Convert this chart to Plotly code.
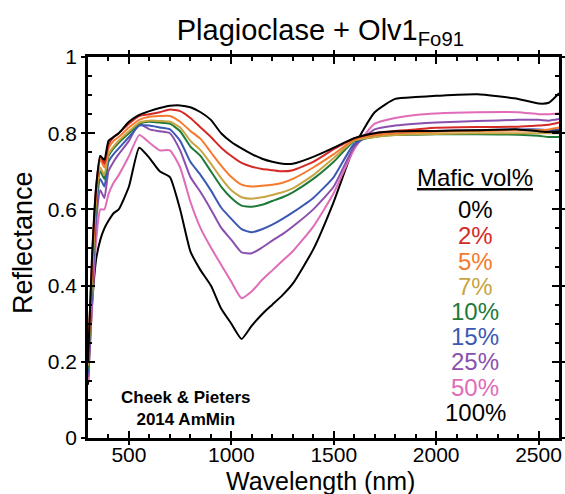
import plotly.graph_objects as go

wavelength = [300, 320, 340, 360, 380, 400, 425, 450, 500, 550, 600, 650, 700, 750, 800,
              850, 900, 950, 1000, 1050, 1100, 1150, 1200, 1250, 1300, 1400, 1500, 1600,
              1700, 1800, 1900, 2000, 2200, 2400, 2500, 2550, 2600]

mafic_0 = [0.20, 0.48, 0.66, 0.74, 0.73, 0.78, 0.79, 0.80, 0.83, 0.848, 0.858, 0.866, 0.872, 0.873, 0.868,
           0.855, 0.835, 0.80, 0.777, 0.76, 0.745, 0.733, 0.725, 0.72, 0.72, 0.738, 0.762, 0.787,
           0.80, 0.805, 0.806, 0.806, 0.808, 0.81, 0.805, 0.803, 0.805]
mafic_2 = [0.21, 0.47, 0.66, 0.74, 0.72, 0.77, 0.79, 0.80, 0.825, 0.845, 0.85, 0.855, 0.862, 0.858, 0.84,
           0.815, 0.79, 0.762, 0.74, 0.722, 0.712, 0.706, 0.703, 0.70, 0.703, 0.725, 0.758, 0.786,
           0.80, 0.806, 0.81, 0.814, 0.816, 0.817, 0.82, 0.822, 0.828]
mafic_5 = [0.20, 0.45, 0.65, 0.73, 0.71, 0.76, 0.78, 0.79, 0.815, 0.835, 0.843, 0.845, 0.845, 0.83, 0.806,
           0.785, 0.75, 0.715, 0.685, 0.665, 0.66, 0.662, 0.665, 0.67, 0.68, 0.71, 0.745, 0.783,
           0.795, 0.80, 0.802, 0.804, 0.806, 0.807, 0.808, 0.81, 0.815]
mafic_7 = [0.19, 0.43, 0.63, 0.71, 0.69, 0.745, 0.765, 0.78, 0.805, 0.828, 0.833, 0.832, 0.83, 0.815, 0.78,
           0.755, 0.72, 0.682, 0.65, 0.632, 0.628, 0.632, 0.638, 0.645, 0.655, 0.69, 0.735, 0.781,
           0.79, 0.795, 0.797, 0.798, 0.80, 0.80, 0.80, 0.80, 0.80]
mafic_10 = [0.18, 0.42, 0.62, 0.70, 0.68, 0.74, 0.76, 0.775, 0.80, 0.825, 0.83, 0.828, 0.825, 0.805, 0.765,
            0.74, 0.70, 0.66, 0.63, 0.61, 0.607, 0.612, 0.622, 0.632, 0.645, 0.68, 0.725, 0.779,
            0.79, 0.795, 0.796, 0.797, 0.797, 0.796, 0.793, 0.79, 0.79]
mafic_15 = [0.17, 0.40, 0.60, 0.68, 0.66, 0.725, 0.745, 0.76, 0.79, 0.82, 0.82, 0.815, 0.81, 0.78, 0.725,
            0.69, 0.65, 0.605, 0.575, 0.548, 0.54, 0.548, 0.56, 0.575, 0.592, 0.63, 0.685, 0.772,
            0.795, 0.80, 0.803, 0.806, 0.808, 0.81, 0.81, 0.808, 0.81]
mafic_25 = [0.16, 0.38, 0.57, 0.65, 0.63, 0.70, 0.725, 0.745, 0.78, 0.825, 0.81, 0.805, 0.80, 0.755, 0.685,
            0.645, 0.60, 0.552, 0.52, 0.487, 0.485, 0.50, 0.518, 0.535, 0.555, 0.60, 0.66, 0.765,
            0.81, 0.82, 0.825, 0.828, 0.832, 0.835, 0.835, 0.833, 0.837]
mafic_50 = [0.15, 0.35, 0.52, 0.60, 0.60, 0.64, 0.67, 0.69, 0.74, 0.795, 0.775, 0.755, 0.755, 0.71, 0.62,
            0.55, 0.50, 0.455, 0.41, 0.367, 0.385, 0.415, 0.44, 0.465, 0.49, 0.555, 0.643, 0.758,
            0.825, 0.84, 0.848, 0.852, 0.855, 0.855, 0.85, 0.85, 0.852]
mafic_100 = [0.14, 0.35, 0.47, 0.52, 0.55, 0.57, 0.59, 0.60, 0.66, 0.762, 0.735, 0.70, 0.685, 0.60, 0.49,
             0.44, 0.40, 0.34, 0.30, 0.26, 0.295, 0.325, 0.35, 0.375, 0.405, 0.495, 0.62, 0.765,
             0.855, 0.89, 0.895, 0.898, 0.902, 0.89, 0.878, 0.88, 0.905]

labels = ["0%", "2%", "5%", "7%", "10%", "15%", "25%", "50%", "100%"]
series = [mafic_0, mafic_2, mafic_5, mafic_7, mafic_10, mafic_15, mafic_25, mafic_50, mafic_100]
colors = ["#000000", "#d42a26", "#f57a2c", "#c9a443", "#1d7a38", "#3b58b4", "#8b4fae", "#e06cb8", "#000000"]

major_x = [500, 1000, 1500, 2000, 2500]
major_y = [0, 0.2, 0.4, 0.6, 0.8, 1]

FONT = "Liberation Sans, Arial, sans-serif"
W, H = 565, 494
L, R, T, B = 88, 6, 57, 56
pw, ph = W - L - R, H - T - B

fig = go.Figure()
for lab, ys, col in reversed(list(zip(labels, series, colors))):
    fig.add_trace(go.Scatter(x=wavelength, y=ys, mode="lines", name=lab,
                             line=dict(color=col, width=2, shape="spline", smoothing=0.5),
                             showlegend=False))

fig.add_trace(go.Scatter(x=[], y=[], xaxis="x2", yaxis="y2", showlegend=False))

fig.update_layout(
    width=W, height=H,
    margin=dict(l=L, r=R, t=T, b=B, autoexpand=False),
    paper_bgcolor="white", plot_bgcolor="white",
    font=dict(family=FONT, color="black"),
    title=dict(text="Plagioclase + Olv1<sub>Fo91</sub>", x=0.567, xanchor="center",
               y=0.94, yanchor="middle", font=dict(size=29, family=FONT)),
    xaxis=dict(range=[300, 2600], showgrid=False, zeroline=False, automargin=False,
               showline=True, linewidth=2.5, linecolor="black", mirror="ticks",
               tickmode="array", tickvals=major_x, ticks="inside", ticklen=7, tickwidth=2,
               tickcolor="black", tickfont=dict(size=21, family=FONT), ticklabelstandoff=-4,
               minor=dict(tickmode="linear", tick0=0, dtick=100, ticks="inside", ticklen=4,
                          tickwidth=1.8, tickcolor="black")),
    yaxis=dict(range=[0, 1], showgrid=False, zeroline=False, automargin=False,
               showline=True, linewidth=2.5, linecolor="black", mirror="ticks",
               tickmode="array", tickvals=major_y, ticks="inside", ticklen=7, tickwidth=2,
               tickcolor="black", tickfont=dict(size=21, family=FONT), ticklabelstandoff=4,
               minor=dict(tickmode="linear", tick0=0, dtick=0.05, ticks="inside", ticklen=4,
                          tickwidth=1.8, tickcolor="black")),
    xaxis2=dict(range=[300, 2600], overlaying="x", anchor="y", side="bottom", automargin=False,
                showgrid=False, zeroline=False, showline=False, mirror="ticks",
                tickmode="array", tickvals=major_x, ticks="outside", ticklen=6, tickwidth=2,
                tickcolor="black", showticklabels=False),
    yaxis2=dict(range=[0, 1], overlaying="y", anchor="x", side="left", automargin=False,
                showgrid=False, zeroline=False, showline=False, mirror="ticks",
                tickmode="array", tickvals=major_y, ticks="outside", ticklen=6, tickwidth=2,
                tickcolor="black", showticklabels=False),
)

def px_to_paper(px, py):
    return (px - L) / pw, (H - B - py) / ph

# axis titles
ax, ay = px_to_paper(320, 481)
fig.add_annotation(x=ax, y=ay, xref="paper", yref="paper", text="Wavelength (nm)", showarrow=False,
                   xanchor="center", yanchor="middle", font=dict(size=25, family=FONT))
ax, ay = px_to_paper(23, 243)
fig.add_annotation(x=ax, y=ay, xref="paper", yref="paper", text="Reflectance", showarrow=False,
                   textangle=-90, xanchor="center", yanchor="middle", font=dict(size=27, family=FONT))

# legend as coloured text
ax, ay = px_to_paper(475, 177)
fig.add_annotation(x=ax, y=ay, xref="paper", yref="paper", text="<u>Mafic vol%</u>",
                   showarrow=False, xanchor="center", yanchor="middle",
                   font=dict(size=24, family=FONT, color="black"))
legend_y = [210, 235, 261, 286, 311, 336, 361, 387, 412]
for lab, col, py in zip(labels, colors, legend_y):
    ax, ay = px_to_paper(475, py)
    fig.add_annotation(x=ax, y=ay, xref="paper", yref="paper", text=lab, showarrow=False,
                       xanchor="center", yanchor="middle",
                       font=dict(size=24, family=FONT, color=col))

ax, ay = px_to_paper(185, 408)
fig.add_annotation(x=ax, y=ay, xref="paper", yref="paper",
                   text="<b>Cheek &amp; Pieters<br>2014 AmMin</b>", showarrow=False,
                   xanchor="center", yanchor="middle",
                   font=dict(size=17, family=FONT, color="black"))

fig.write_html("out.html", config={"displayModeBar": False},
               post_script="document.body.style.margin='0';")
